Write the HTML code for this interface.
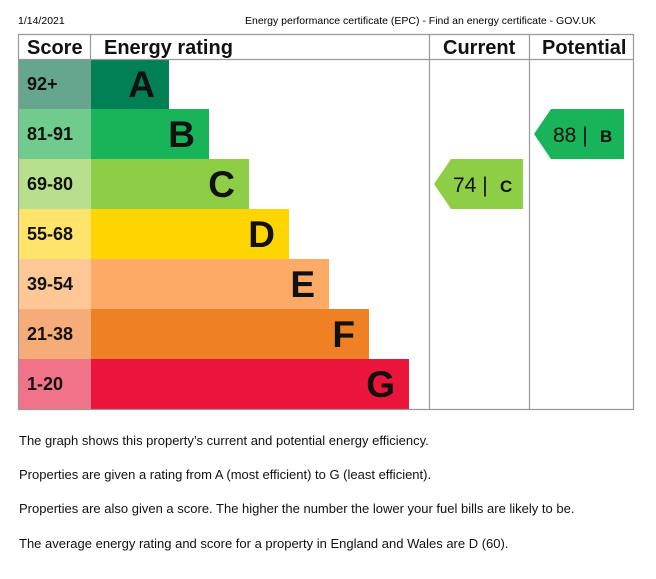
<!DOCTYPE html>
<html><head><meta charset="utf-8"><style>
body{margin:0;background:#fff;width:656px;height:579px;overflow:hidden;font-family:"Liberation Sans",Arial,sans-serif}
.p{position:absolute;left:19px;font-size:13px;color:#111;margin:0}
</style></head><body>
<div style="position:absolute;left:18px;top:15px;font-size:10.5px">1/14/2021</div>
<div style="position:absolute;left:245px;top:15px;font-size:10.5px">Energy performance certificate (EPC) - Find an energy certificate - GOV.UK</div>
<svg id="c" width="656" height="420" style="position:absolute;left:0;top:0"></svg>
<p class="p" style="top:433px">The graph shows this property’s current and potential energy efficiency.</p>
<p class="p" style="top:467px">Properties are given a rating from A (most efficient) to G (least efficient).</p>
<p class="p" style="top:501px">Properties are also given a score. The higher the number the lower your fuel bills are likely to be.</p>
<p class="p" style="top:536px">The average energy rating and score for a property in England and Wales are D (60).</p>
<script>
const letters=["A","B","C","D","E","F","G"];
const ranges=["92+","81-91","69-80","55-68","39-54","21-38","1-20"];
const lows=[92,81,69,55,39,21,1];
const currentScore=74, currentLetter="C";
const potentialScore=88, potentialLetter="B";
const barCol=["#008054","#19b459","#8dce46","#ffd500","#fcaa65","#ef8023","#e9153b"];
const scoreCol=["#66a68f","#6fcc8c","#b7df8c","#ffe36b","#fdc895","#f5ac78","#f07389"];
const svg=document.getElementById('c');const NS="http://www.w3.org/2000/svg";
function mk(t,a,txt){const e=document.createElementNS(NS,t);for(const k in a)e.setAttribute(k,a[k]);if(txt!=null)e.textContent=txt;svg.appendChild(e);return e;}
const top0=59,rowH=50,x0=91;
const rowY=i=>top0+i*rowH;
const barEnd=i=>169+i*40;
const bandOf=s=>lows.findIndex(l=>s>=l);
letters.forEach((L,i)=>{
 let r=mk('rect',{x:19,y:rowY(i),width:72,height:rowH,fill:scoreCol[i]});
 
 let t=mk('text',{x:27,y:rowY(i)+31,'font-size':18,'font-weight':'bold',fill:'#111'},ranges[i]);
 
 let b=mk('rect',{x:x0,y:rowY(i),width:barEnd(i)-x0,height:rowH,fill:barCol[i]});
 
 let lt=mk('text',{x:barEnd(i)-14,y:rowY(i)+38,'font-size':37,'font-weight':'bold','text-anchor':'end',fill:'#111'},L);
 
});
[["M18.5 34.5H633.5V409.5H18.5Z"],["M18.5 59.5H633.5"],["M90.5 34.5V59.5"],["M429.5 34.5V409.5"],["M529.5 34.5V409.5"]].forEach(d=>{
 let p=mk('path',{d:d[0],fill:'none',stroke:'#999','stroke-width':1.2});
 });
[["Score",27],["Energy rating",104],["Current",443],["Potential",542]].forEach(h=>{
 let t=mk('text',{x:h[1],y:54,'font-size':20,'font-weight':'bold',fill:'#111'},h[0]);
 });
function arrow(score,letter,x1,x2,name){
 const i=bandOf(score),y=rowY(i);
 let p=mk('path',{d:`M${x1} ${y+25}L${x1+17} ${y}H${x2}V${y+rowH}H${x1+17}Z`,fill:barCol[i]});
 
 let t=mk('text',{x:x1+19,y:y+33,'font-size':21,fill:'#111'},score+" | ");
 
 let t2=mk('text',{x:x1+66,y:y+33,'font-size':17,'font-weight':'bold',fill:'#111'},letter);
 
}
arrow(currentScore,currentLetter,434,523,'current-rating');
arrow(potentialScore,potentialLetter,534,624,'potential-rating');
</script>
</body></html>
